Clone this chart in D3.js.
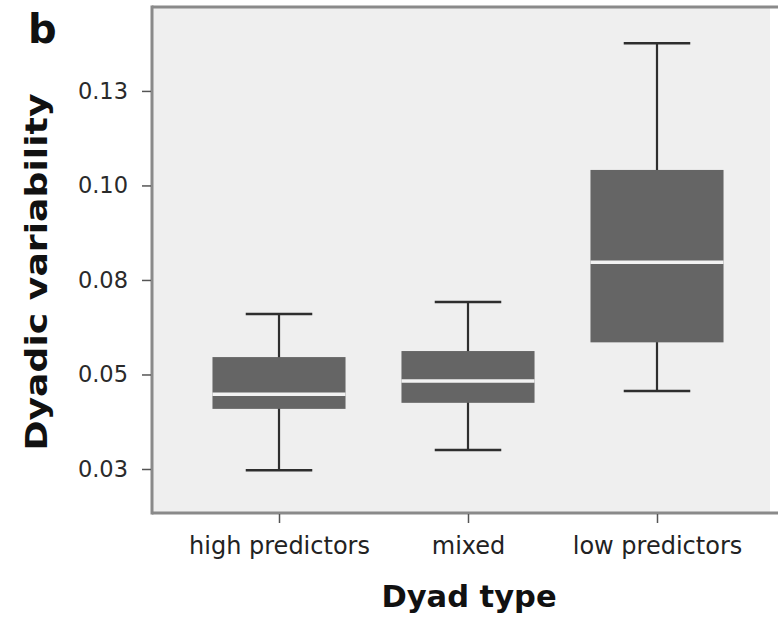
<!DOCTYPE html>
<html>
<head>
<meta charset="utf-8">
<script src="https://cdn.jsdelivr.net/npm/d3@7"></script>
<style>
  html, body { margin: 0; padding: 0; background: #ffffff; }
  svg { display: block; }
</style>
</head>
<body>
<script>
const categories = ["high predictors", "mixed", "low predictors"];
const whiskerLow  = [0.0247, 0.0300, 0.0456];
const q1          = [0.0409, 0.0425, 0.0585];
const median      = [0.0448, 0.0483, 0.0797];
const q3          = [0.0546, 0.0562, 0.1041];
const whiskerHigh = [0.0660, 0.0692, 0.1376];
const tickValues  = [0.025, 0.05, 0.075, 0.10, 0.125];
const tickLabels  = ["0.03", "0.05", "0.08", "0.10", "0.13"];

const W = 778, H = 621;
const plot = { left: 152, top: 7, right: 770, bottom: 513 };

const svg = d3.select("body").append("svg").attr("width", W).attr("height", H);

const y = d3.scaleLinear().domain([0.01336, 0.1472]).range([plot.bottom, plot.top]);
const x = d3.scalePoint().domain(categories).range([152, 784]).padding(0.672);
const step = x.step();
const boxW = step * 0.704;
const capW = boxW / 2;

// plot background
svg.append("rect")
  .attr("x", plot.left).attr("y", plot.top)
  .attr("width", plot.right - plot.left).attr("height", plot.bottom - plot.top)
  .attr("fill", "#efefef");

const font = "'DejaVu Sans', 'Open Sans', sans-serif";

// boxes
const data = categories.map((c, i) => ({
  c, lo: whiskerLow[i], q1: q1[i], med: median[i], q3: q3[i], hi: whiskerHigh[i]
}));

const g = svg.append("g");
const b = g.selectAll("g.box").data(data).join("g").attr("class", "box");

b.append("line")
  .attr("x1", d => x(d.c)).attr("x2", d => x(d.c))
  .attr("y1", d => y(d.hi)).attr("y2", d => y(d.lo))
  .attr("stroke", "#2e2e2e").attr("stroke-width", 2.2);
b.append("line")
  .attr("x1", d => x(d.c) - capW / 2).attr("x2", d => x(d.c) + capW / 2)
  .attr("y1", d => y(d.hi)).attr("y2", d => y(d.hi))
  .attr("stroke", "#2e2e2e").attr("stroke-width", 2.5);
b.append("line")
  .attr("x1", d => x(d.c) - capW / 2).attr("x2", d => x(d.c) + capW / 2)
  .attr("y1", d => y(d.lo)).attr("y2", d => y(d.lo))
  .attr("stroke", "#2e2e2e").attr("stroke-width", 2.5);
b.append("rect")
  .attr("x", d => x(d.c) - boxW / 2).attr("width", boxW)
  .attr("y", d => y(d.q3)).attr("height", d => y(d.q1) - y(d.q3))
  .attr("fill", "#656565");
b.append("line")
  .attr("x1", d => x(d.c) - boxW / 2).attr("x2", d => x(d.c) + boxW / 2)
  .attr("y1", d => y(d.med)).attr("y2", d => y(d.med))
  .attr("stroke", "#f2f2f2").attr("stroke-width", 3.5);

// frame lines
svg.append("line").attr("x1", plot.left).attr("x2", W).attr("y1", plot.top).attr("y2", plot.top)
  .attr("stroke", "#8a8a8a").attr("stroke-width", 3);
svg.append("line").attr("x1", plot.left).attr("x2", plot.left).attr("y1", plot.top - 1.5).attr("y2", plot.bottom + 1.5)
  .attr("stroke", "#8a8a8a").attr("stroke-width", 3);
svg.append("line").attr("x1", plot.left).attr("x2", W).attr("y1", plot.bottom).attr("y2", plot.bottom)
  .attr("stroke", "#8a8a8a").attr("stroke-width", 3);

// y axis
const yAxis = d3.axisLeft(y).tickValues(tickValues)
  .tickFormat((d, i) => tickLabels[i]).tickSize(9).tickPadding(14);
const ya = svg.append("g").attr("transform", `translate(${plot.left - 1},0)`).call(yAxis);
ya.select(".domain").remove();
ya.selectAll(".tick line").attr("stroke", "#555").attr("stroke-width", 1.5);
ya.selectAll(".tick text").attr("fill", "#2a2a2a").style("font-family", font).style("font-size", "22.5px");

// x axis
const xAxis = d3.axisBottom(x).tickSize(9).tickPadding(14);
const xa = svg.append("g").attr("transform", `translate(0,${plot.bottom + 1})`).call(xAxis);
xa.select(".domain").remove();
xa.selectAll(".tick line").attr("stroke", "#555").attr("stroke-width", 1.5);
xa.selectAll(".tick text").attr("fill", "#222").style("font-family", font).style("font-size", "24px");

// titles
svg.append("text")
  .attr("x", 469).attr("y", 607)
  .attr("text-anchor", "middle")
  .style("font-family", font).style("font-weight", "bold").style("font-size", "30.5px")
  .attr("fill", "#111")
  .text("Dyad type");

svg.append("text")
  .attr("transform", "translate(47,272) rotate(-90)")
  .attr("text-anchor", "middle")
  .attr("textLength", 357).attr("lengthAdjust", "spacingAndGlyphs")
  .style("font-family", font).style("font-weight", "bold").style("font-size", "31px")
  .attr("fill", "#111")
  .text("Dyadic variability");

svg.append("text")
  .attr("x", 28).attr("y", 43)
  .style("font-family", font).style("font-weight", "bold").style("font-size", "40px")
  .attr("fill", "#111")
  .text("b");
</script>
</body>
</html>
